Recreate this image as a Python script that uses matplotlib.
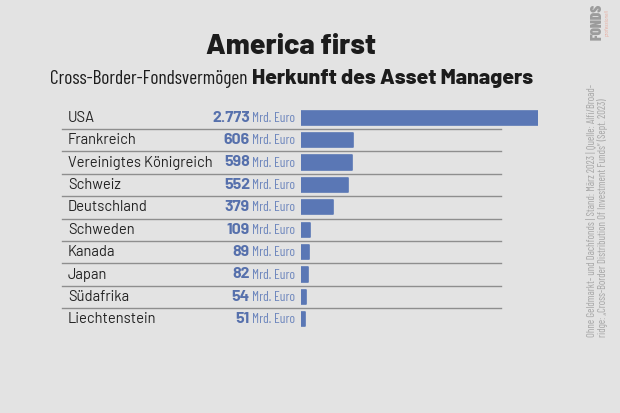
import matplotlib
matplotlib.use("Agg")
import matplotlib.pyplot as plt
import matplotlib.transforms as mtransforms

# data
countries = ["USA", "Frankreich", "Vereinigtes Königreich", "Schweiz", "Deutschland",
             "Schweden", "Kanada", "Japan", "Südafrika", "Liechtenstein"]
values = [2773, 606, 598, 552, 379, 109, 89, 82, 54, 51]
value_labels = ["2.773", "606", "598", "552", "379", "109", "89", "82", "54", "51"]

title = "America first"
subtitle_light = "Cross-Border-Fondsvermögen"
subtitle_bold = "Herkunft des Asset Managers"
source_1 = "Ohne Geldmarkt- und Dachfonds | Stand: März 2023 | Quelle: Alfi/Broad-"
source_2 = "ridge: „Cross-Border Distribution Of Investment Funds\u201c (Sept. 2023)"

W, H = 620, 413
bg = "#e3e3e3"
bar_col = "#5a77b5"
num_col = "#5670ac"
unit_col = "#6d86bd"
line_col = "#8e8e8e"
side_col = "#a6a6a6"

din = ["Barlow", "DejaVu Sans"]
din_semi = ["Barlow Semi Condensed", "DejaVu Sans"]
din_cond = ["Barlow Condensed", "DejaVu Sans"]

fig = plt.figure(figsize=(W / 100, H / 100), dpi=100, facecolor=bg)

def fx(px):
    return px / W

def fy(py):
    return 1 - py / H

# bar axes: row 0 top at 106.5px, row pitch 22.4px
top, pitch = 106.5, 22.4
n = len(countries)
ax = fig.add_axes([fx(301), fy(top + pitch * n), fx(538) - fx(301), pitch * n / H])
ax.set_facecolor("none")
ax.set_xlim(0, values[0])
ax.set_ylim(n - 0.5, -0.5)
ax.axis("off")

# small bars get a minimum visible width like in the original
widths = [max(v, 45) for v in values]
ax.barh(range(n), widths, height=0.64, color=bar_col, edgecolor=bar_col,
        linewidth=1.2, joinstyle="round")

trans = mtransforms.blended_transform_factory(fig.transFigure, ax.transData)
for i in range(n - 1):
    ax.plot([fx(62), fx(501)], [i + 0.5, i + 0.5], transform=trans, color=line_col,
            lw=1.0, clip_on=False)

for i, (c, lab) in enumerate(zip(countries, value_labels)):
    ax.text(fx(68), i, c, transform=trans, ha="left", va="center", fontsize=10.6,
            family=din, color="#222222")
    ax.text(fx(250), i, lab, transform=trans, ha="right", va="center", fontsize=11.5,
            family=din, weight="bold", color=num_col)
    ax.text(fx(252), i + 0.03, "Mrd. Euro", transform=trans, ha="left", va="center",
            fontsize=9.7, family=din_cond, color=unit_col)

# titles
fig.text(fx(291), fy(46), title, ha="center", va="center", fontsize=20.5,
         family=din, weight=800, color="#1c1c1c")
fig.text(fx(247), fy(79), subtitle_light, ha="right", va="center", fontsize=13.9,
         family=din_cond, color="#1c1c1c")
fig.text(fx(252), fy(79), subtitle_bold, ha="left", va="center", fontsize=15.3,
         family=din, weight=800, color="#1c1c1c")

# side note
fig.text(fx(591), fy(337), source_1, rotation=90, rotation_mode="anchor",
         ha="left", va="center", fontsize=7.6, family=din_cond, color=side_col)
fig.text(fx(603), fy(337), source_2, rotation=90, rotation_mode="anchor",
         ha="left", va="center", fontsize=7.6, family=din_cond, color=side_col)

# logo
fig.text(fx(598), fy(40), "FONDS", rotation=90, rotation_mode="anchor",
         ha="left", va="center", fontsize=11, family=din_cond, weight=900, color="#9c9c9c")
fig.text(fx(607), fy(36), "professionell", rotation=90, rotation_mode="anchor",
         ha="left", va="center", fontsize=3.5, family=din, style="italic", color="#e7a89a")

fig.savefig("out.png", dpi=100, facecolor=bg)
